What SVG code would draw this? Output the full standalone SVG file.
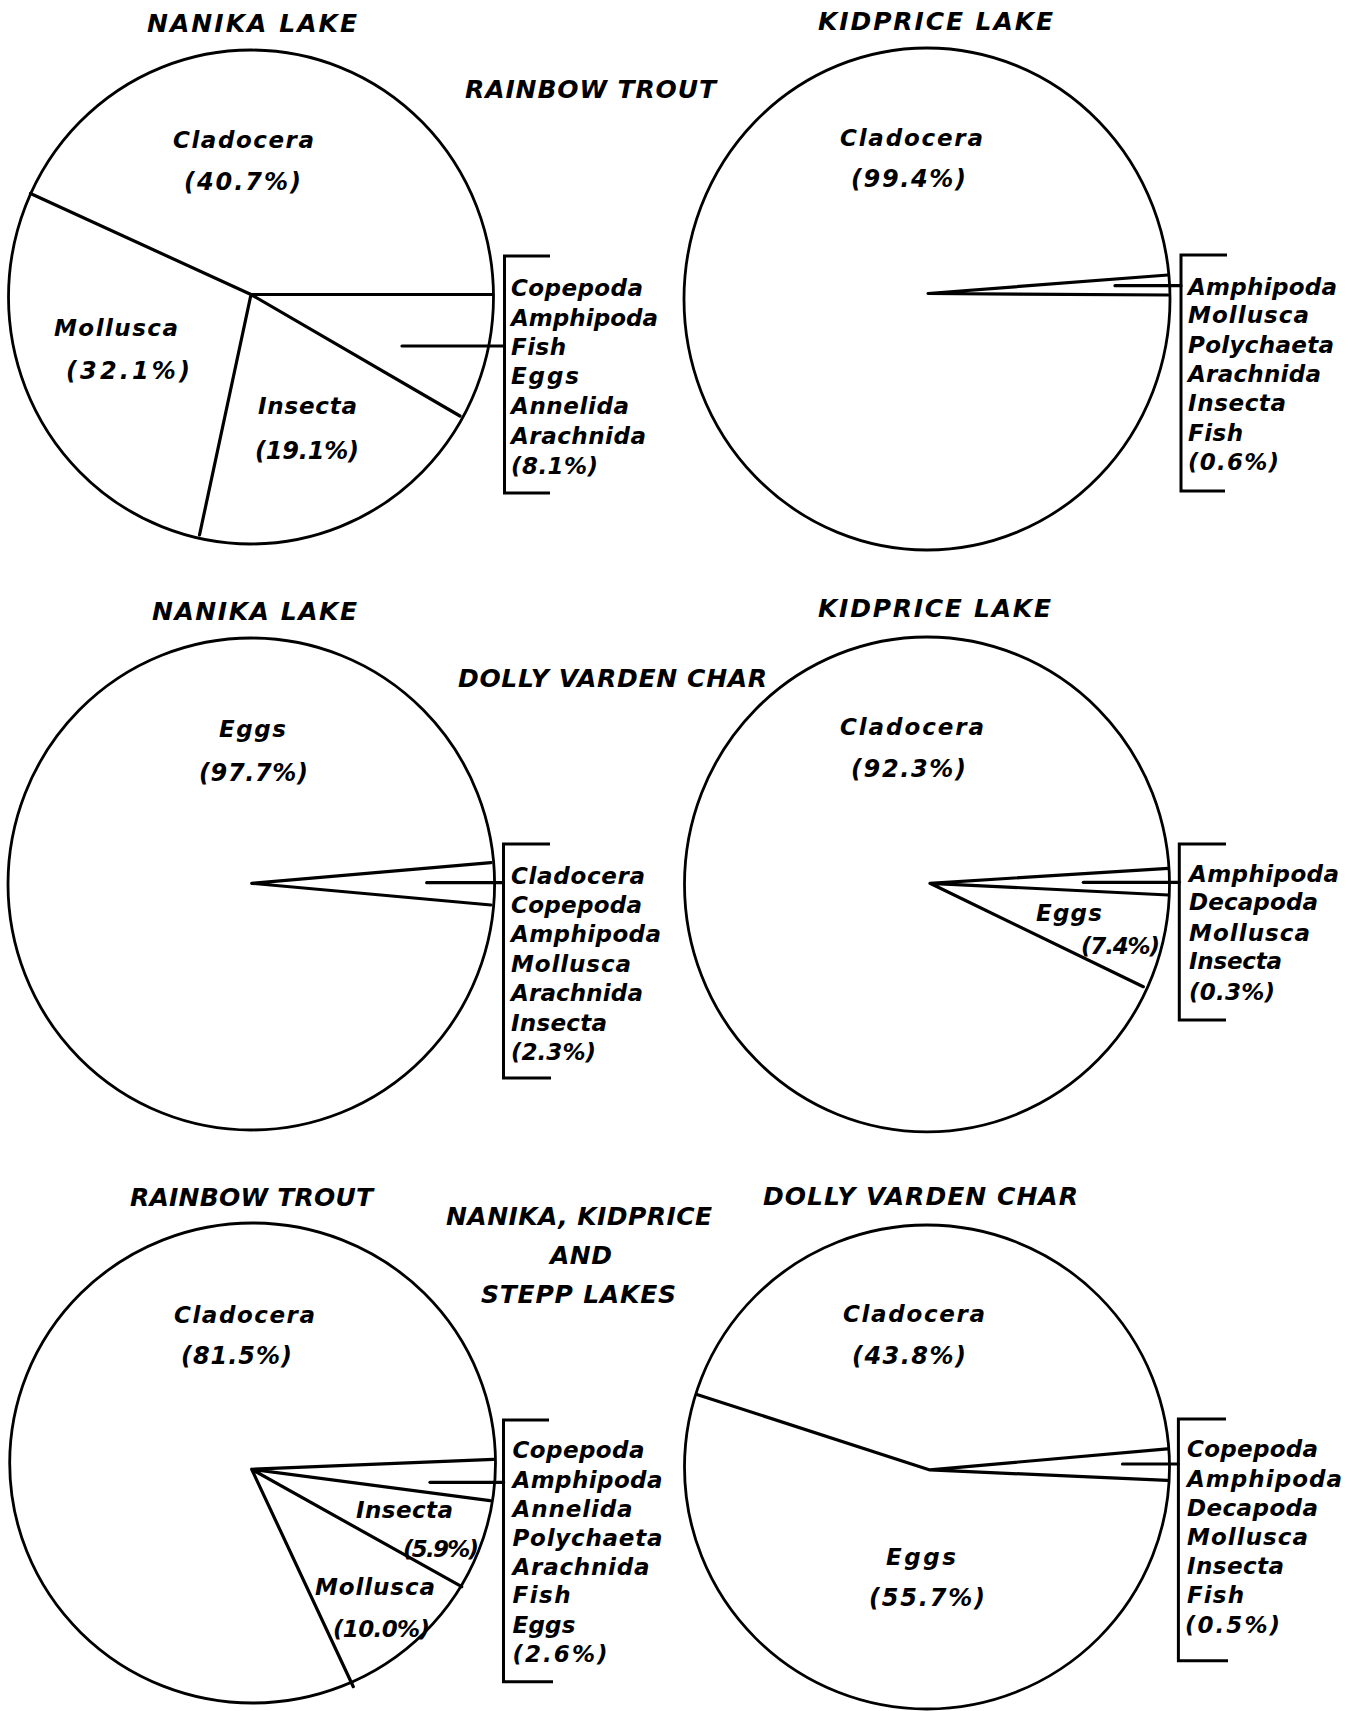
<svg xmlns="http://www.w3.org/2000/svg" width="1356" height="1711" viewBox="0 0 1356 1711">
<style>
.t{font-family:"DejaVu Sans","Liberation Sans",Arial,sans-serif;font-weight:bold;font-style:italic;fill:#000}
.h{font-size:25px}
.l{font-size:23px}
.p{font-size:24px}
.q{font-size:23px}
.s{font-size:23px}
.pie{fill:none;stroke:#000;stroke-width:2.8}
.w{fill:none;stroke:#000;stroke-width:3.2;stroke-linecap:round;stroke-linejoin:round}
.br{fill:none;stroke:#000;stroke-width:3}
</style>
<rect width="1356" height="1711" fill="#fff"/>

<g id="titles">
<text class="t h" x="147" y="32" textLength="210" lengthAdjust="spacing">NANIKA LAKE</text>
<text class="t h" x="818" y="30" textLength="235" lengthAdjust="spacing">KIDPRICE LAKE</text>
<text class="t h" x="465" y="98" textLength="251" lengthAdjust="spacing">RAINBOW TROUT</text>
<text class="t h" x="152" y="620" textLength="205" lengthAdjust="spacing">NANIKA LAKE</text>
<text class="t h" x="818" y="617" textLength="233" lengthAdjust="spacing">KIDPRICE LAKE</text>
<text class="t h" x="458" y="687" textLength="309" lengthAdjust="spacing">DOLLY VARDEN CHAR</text>
<text class="t h" x="130" y="1206" textLength="243" lengthAdjust="spacing">RAINBOW TROUT</text>
<text class="t h" x="763" y="1205" textLength="315" lengthAdjust="spacing">DOLLY VARDEN CHAR</text>
<text class="t h" x="446" y="1225" textLength="266" lengthAdjust="spacing">NANIKA, KIDPRICE</text>
<text class="t h" x="550" y="1264" textLength="62" lengthAdjust="spacing">AND</text>
<text class="t h" x="481" y="1303" textLength="195" lengthAdjust="spacing">STEPP LAKES</text>
</g>

<g id="pie-rt-nanika">
<ellipse class="pie" cx="251" cy="297" rx="242.5" ry="247"/>
<path class="w" d="M30.5,193.5 L251,294.5 L493,294.5 M251,294.5 L460,416 M251,294.5 L199.5,535"/>
<text class="t l" x="173" y="148" textLength="141" lengthAdjust="spacing">Cladocera</text>
<text class="t p" x="184" y="190" textLength="117" lengthAdjust="spacing">(40.7%)</text>
<text class="t l" x="54" y="336" textLength="124" lengthAdjust="spacing">Mollusca</text>
<text class="t p" x="66" y="379" textLength="124" lengthAdjust="spacing">(32.1%)</text>
<text class="t l" x="258" y="414" textLength="99" lengthAdjust="spacing">Insecta</text>
<text class="t p" x="255" y="459" textLength="104" lengthAdjust="spacing">(19.1%)</text>
</g>

<g id="pie-rt-kidprice">
<ellipse class="pie" cx="927" cy="299" rx="243" ry="251"/>
<path class="w" d="M1168,275 L928,293.5 L1168,295"/>
<text class="t l" x="840" y="146" textLength="143" lengthAdjust="spacing">Cladocera</text>
<text class="t p" x="851" y="187" textLength="115" lengthAdjust="spacing">(99.4%)</text>
</g>

<g id="pie-dv-nanika">
<ellipse class="pie" cx="251.3" cy="884" rx="243.3" ry="246"/>
<path class="w" d="M491,862.7 L251.7,883.3 L491,905"/>
<text class="t l" x="219" y="737" textLength="67" lengthAdjust="spacing">Eggs</text>
<text class="t p" x="199" y="781" textLength="109" lengthAdjust="spacing">(97.7%)</text>
</g>

<g id="pie-dv-kidprice">
<ellipse class="pie" cx="927" cy="884.4" rx="242.5" ry="247.4"/>
<path class="w" d="M1168.3,868.3 L930,883.3 L1168.3,895 M930,883.3 L1143.3,986.7"/>
<text class="t l" x="840" y="735" textLength="144" lengthAdjust="spacing">Cladocera</text>
<text class="t p" x="851" y="777" textLength="115" lengthAdjust="spacing">(92.3%)</text>
<text class="t l" x="1036" y="921" textLength="66" lengthAdjust="spacing">Eggs</text>
<text class="t q" x="1081" y="954" textLength="79" lengthAdjust="spacing">(7.4%)</text>
</g>

<g id="pie-rt-all">
<ellipse class="pie" cx="252.6" cy="1463" rx="242.9" ry="240"/>
<path class="w" d="M493.3,1459.3 L251.7,1469.3 L490,1500.7 M251.7,1469.3 L461.7,1586.7 M251.7,1469.3 L353.3,1686.7"/>
<text class="t l" x="174" y="1323" textLength="141" lengthAdjust="spacing">Cladocera</text>
<text class="t p" x="181" y="1364" textLength="111" lengthAdjust="spacing">(81.5%)</text>
<text class="t l" x="356" y="1518" textLength="97" lengthAdjust="spacing">Insecta</text>
<text class="t q" x="403" y="1557" textLength="76" lengthAdjust="spacing">(5.9%)</text>
<text class="t l" x="315" y="1595" textLength="120" lengthAdjust="spacing">Mollusca</text>
<text class="t q" x="333" y="1637" textLength="97" lengthAdjust="spacing">(10.0%)</text>
</g>

<g id="pie-dv-all">
<ellipse class="pie" cx="927" cy="1467" rx="242.5" ry="242"/>
<path class="w" d="M697.7,1394.7 L929.9,1469.9 L1167.3,1448.8 M929.9,1469.9 L1167.3,1480.4"/>
<text class="t l" x="843" y="1322" textLength="142" lengthAdjust="spacing">Cladocera</text>
<text class="t p" x="852" y="1364" textLength="114" lengthAdjust="spacing">(43.8%)</text>
<text class="t l" x="886" y="1565" textLength="70" lengthAdjust="spacing">Eggs</text>
<text class="t p" x="869" y="1606" textLength="116" lengthAdjust="spacing">(55.7%)</text>
</g>

<g id="connectors">
<path class="w" d="M402,346 L504,346"/>
<path class="w" d="M1115,285.7 L1181,285.7"/>
<path class="w" d="M426.7,882.7 L503.5,882.7"/>
<path class="w" d="M1083.3,882.3 L1179.3,882.3"/>
<path class="w" d="M430,1482.3 L503.5,1482.3"/>
<path class="w" d="M1122.5,1464 L1178.4,1464"/>
</g>

<g id="list-rt-nanika">
<path class="br" d="M550,256 H504.5 V493 H550"/>
<text class="t s" x="511" y="296" textLength="132" lengthAdjust="spacing">Copepoda</text>
<text class="t s" x="511" y="326" textLength="147" lengthAdjust="spacing">Amphipoda</text>
<text class="t s" x="511" y="355" textLength="55" lengthAdjust="spacing">Fish</text>
<text class="t s" x="511" y="384" textLength="68" lengthAdjust="spacing">Eggs</text>
<text class="t s" x="511" y="414" textLength="118" lengthAdjust="spacing">Annelida</text>
<text class="t s" x="511" y="444" textLength="135" lengthAdjust="spacing">Arachnida</text>
<text class="t s" x="511" y="474" textLength="87" lengthAdjust="spacing">(8.1%)</text>
</g>

<g id="list-rt-kidprice">
<path class="br" d="M1227,255 H1181 V491 H1225"/>
<text class="t s" x="1188" y="295" textLength="149" lengthAdjust="spacing">Amphipoda</text>
<text class="t s" x="1188" y="323" textLength="121" lengthAdjust="spacing">Mollusca</text>
<text class="t s" x="1188" y="353" textLength="146" lengthAdjust="spacing">Polychaeta</text>
<text class="t s" x="1188" y="382" textLength="133" lengthAdjust="spacing">Arachnida</text>
<text class="t s" x="1188" y="411" textLength="98" lengthAdjust="spacing">Insecta</text>
<text class="t s" x="1188" y="441" textLength="55" lengthAdjust="spacing">Fish</text>
<text class="t s" x="1188" y="470" textLength="91" lengthAdjust="spacing">(0.6%)</text>
</g>

<g id="list-dv-nanika">
<path class="br" d="M550,844 H503.5 V1078 H551"/>
<text class="t s" x="511" y="884" textLength="134" lengthAdjust="spacing">Cladocera</text>
<text class="t s" x="511" y="913" textLength="131" lengthAdjust="spacing">Copepoda</text>
<text class="t s" x="511" y="942" textLength="150" lengthAdjust="spacing">Amphipoda</text>
<text class="t s" x="511" y="972" textLength="120" lengthAdjust="spacing">Mollusca</text>
<text class="t s" x="511" y="1001" textLength="132" lengthAdjust="spacing">Arachnida</text>
<text class="t s" x="511" y="1031" textLength="96" lengthAdjust="spacing">Insecta</text>
<text class="t s" x="511" y="1060" textLength="85" lengthAdjust="spacing">(2.3%)</text>
</g>

<g id="list-dv-kidprice">
<path class="br" d="M1226,844 H1179.3 V1020 H1226"/>
<text class="t s" x="1189" y="882" textLength="150" lengthAdjust="spacing">Amphipoda</text>
<text class="t s" x="1189" y="910" textLength="129" lengthAdjust="spacing">Decapoda</text>
<text class="t s" x="1189" y="941" textLength="121" lengthAdjust="spacing">Mollusca</text>
<text class="t s" x="1189" y="969" textLength="93" lengthAdjust="spacing">Insecta</text>
<text class="t s" x="1189" y="1000" textLength="86" lengthAdjust="spacing">(0.3%)</text>
</g>

<g id="list-rt-all">
<path class="br" d="M549,1420 H503.5 V1681.7 H553"/>
<text class="t s" x="512.5" y="1458" textLength="132" lengthAdjust="spacing">Copepoda</text>
<text class="t s" x="512.5" y="1488" textLength="150" lengthAdjust="spacing">Amphipoda</text>
<text class="t s" x="512.5" y="1517" textLength="120" lengthAdjust="spacing">Annelida</text>
<text class="t s" x="512.5" y="1546" textLength="150" lengthAdjust="spacing">Polychaeta</text>
<text class="t s" x="512.5" y="1575" textLength="137" lengthAdjust="spacing">Arachnida</text>
<text class="t s" x="512.5" y="1603" textLength="58" lengthAdjust="spacing">Fish</text>
<text class="t s" x="512.5" y="1633" textLength="63" lengthAdjust="spacing">Eggs</text>
<text class="t s" x="512.5" y="1662" textLength="95" lengthAdjust="spacing">(2.6%)</text>
</g>

<g id="list-dv-all">
<path class="br" d="M1226,1419 H1178.4 V1660.7 H1228"/>
<text class="t s" x="1187" y="1457" textLength="131" lengthAdjust="spacing">Copepoda</text>
<text class="t s" x="1187" y="1487" textLength="155" lengthAdjust="spacing">Amphipoda</text>
<text class="t s" x="1187" y="1516" textLength="131" lengthAdjust="spacing">Decapoda</text>
<text class="t s" x="1187" y="1545" textLength="121" lengthAdjust="spacing">Mollusca</text>
<text class="t s" x="1187" y="1574" textLength="97" lengthAdjust="spacing">Insecta</text>
<text class="t s" x="1187" y="1603" textLength="57" lengthAdjust="spacing">Fish</text>
<text class="t s" x="1185" y="1633" textLength="95" lengthAdjust="spacing">(0.5%)</text>
</g>
</svg>
